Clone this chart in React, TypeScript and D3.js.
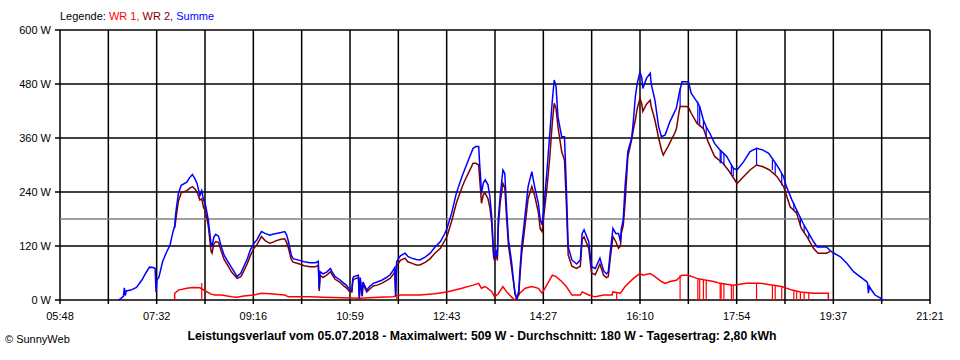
import React from "react";
import * as d3 from "d3";

const yTicks = [0, 120, 240, 360, 480, 600];
const xTickLabels = ["05:48", "07:32", "09:16", "10:59", "12:43", "14:27", "16:10", "17:54", "19:37", "21:21"];
const averageW = 180;
const legendPrefix = "Legende: ";
const legendItems = [
  { label: "WR 1, ", color: "#ff0000" },
  { label: "WR 2, ", color: "#800000" },
  { label: "Summe", color: "#0000ff" },
];
const titleText = "Leistungsverlauf vom 05.07.2018 - Maximalwert: 509 W - Durchschnitt: 180 W - Tagesertrag: 2,80 kWh";
const footerText = "© SunnyWeb";

const summe: [string, number][] = [
  ["06:51",0],["06:53",3],["06:56",8],["06:57",27],["06:58",10],["06:59",20],["07:04",22],["07:10",28],["07:16",45],["07:20",60],["07:24",73],["07:28",72],["07:30",70],["07:31",18],["07:32",45],["07:34",50],["07:38",85],["07:42",105],["07:46",122],["07:49",150],["07:51",165],["07:52",190],["07:53",207],["07:55",237],["07:58",255],["08:04",262],["08:07",272],["08:10",279],["08:13",268],["08:15",259],["08:18",232],["08:20",243],["08:22",222],["08:24",212],["08:27",178],["08:30",125],["08:31",118],["08:33",140],["08:35",146],["08:38",142],["08:41",118],["08:44",100],["08:47",89],["08:52",72],["08:58",52],["09:02",60],["09:05",74],["09:09",92],["09:12",111],["09:16",126],["09:19",133],["09:24",152],["09:28",148],["09:33",144],["09:36",146],["09:40",148],["09:45",150],["09:49",152],["09:51",145],["09:53",130],["09:56",100],["09:58",92],["10:05",88],["10:10",85],["10:16",83],["10:22",83],["10:25",86],["10:26",25],["10:27",63],["10:30",58],["10:34",62],["10:38",70],["10:40",62],["10:43",52],["10:48",45],["10:52",38],["10:55",33],["10:58",25],["11:01",22],["11:02",48],["11:03",52],["11:08",55],["11:09",5],["11:10",50],["11:12",10],["11:13",40],["11:17",22],["11:20",30],["11:24",37],["11:28",40],["11:33",44],["11:38",50],["11:42",56],["11:45",65],["11:47",72],["11:48",10],["11:49",85],["11:53",98],["11:58",104],["12:01",97],["12:05",93],["12:10",90],["12:14",89],["12:20",96],["12:25",104],["12:30",117],["12:36",130],["12:40",145],["12:43",159],["12:48",193],["12:53",237],["12:59",274],["13:02",290],["13:06",311],["13:11",337],["13:14",341],["13:17",341],["13:18",304],["13:19",275],["13:20",237],["13:22",260],["13:24",267],["13:27",256],["13:29",230],["13:31",185],["13:33",104],["13:34",96],["13:36",111],["13:37",96],["13:38",180],["13:40",230],["13:43",289],["13:45",281],["13:47",200],["13:49",133],["13:52",89],["13:54",50],["13:56",15],["13:58",4],["14:00",20],["14:01",59],["14:03",118],["14:07",193],["14:10",252],["14:14",285],["14:17",252],["14:21",215],["14:23",178],["14:25",167],["14:27",207],["14:30",281],["14:33",363],["14:36",444],["14:38",489],["14:40",474],["14:42",407],["14:46",363],["14:49",363],["14:51",252],["14:53",118],["14:57",89],["15:02",80],["15:06",89],["15:08",148],["15:10",156],["15:15",130],["15:18",74],["15:22",70],["15:27",93],["15:31",65],["15:34",58],["15:36",63],["15:38",104],["15:41",159],["15:44",148],["15:47",148],["15:49",130],["15:50",159],["15:52",178],["15:54",252],["15:57",330],["16:01",359],["16:03",400],["16:05",452],["16:07",481],["16:10",507],["16:12",493],["16:13",470],["16:17",493],["16:21",504],["16:22",481],["16:26",444],["16:30",385],["16:33",363],["16:37",367],["16:42",396],["16:49",426],["16:52",459],["16:55",485],["17:00",485],["17:02",485],["17:05",459],["17:11",441],["17:14",430],["17:18",400],["17:21",385],["17:25",370],["17:30",348],["17:36",333],["17:43",319],["17:50",293],["17:54",289],["18:01",307],["18:08",330],["18:15",337],["18:22",333],["18:28",326],["18:33",311],["18:38",296],["18:44",274],["18:47",252],["18:53",222],["18:58",200],["19:05",170],["19:11",148],["19:16",130],["19:20",118],["19:30",118],["19:34",110],["19:37",105],["19:45",96],["19:52",81],["19:59",63],["20:06",52],["20:13",41],["20:14",38],["20:15",15],["20:16",30],["20:17",26],["20:22",11],["20:28",4],["20:30",0],
];

const wr2: [string, number][] = [
  ["07:51",160],["07:53",190],["07:55",220],["07:58",238],["08:04",243],["08:07",248],["08:10",252],["08:13",246],["08:15",240],["08:18",222],["08:20",225],["08:22",205],["08:24",198],["08:27",165],["08:30",108],["08:31",104],["08:33",125],["08:35",130],["08:38",128],["08:41",108],["08:44",90],["08:47",80],["08:52",62],["08:58",48],["09:02",52],["09:05",64],["09:09",82],["09:12",98],["09:16",115],["09:19",122],["09:24",141],["09:28",132],["09:33",126],["09:36",128],["09:40",132],["09:45",135],["09:49",136],["09:51",128],["09:53",115],["09:56",90],["09:58",84],["10:05",80],["10:10",76],["10:16",74],["10:22",74],["10:25",77],["10:26",20],["10:27",55],["10:30",50],["10:34",55],["10:38",63],["10:40",56],["10:43",46],["10:48",40],["10:52",32],["10:55",27],["10:58",20],["11:01",18],["11:02",42],["11:03",46],["11:08",50],["11:09",3],["11:10",45],["11:12",8],["11:13",35],["11:17",18],["11:20",24],["11:24",31],["11:28",33],["11:33",37],["11:38",43],["11:42",48],["11:45",56],["11:47",62],["11:48",8],["11:49",75],["11:53",88],["11:58",93],["12:01",85],["12:05",82],["12:10",78],["12:14",78],["12:20",84],["12:25",92],["12:30",104],["12:36",115],["12:40",130],["12:43",141],["12:48",175],["12:53",215],["12:59",250],["13:02",265],["13:06",282],["13:11",304],["13:14",304],["13:17",300],["13:18",270],["13:19",245],["13:20",215],["13:22",235],["13:24",237],["13:27",225],["13:29",205],["13:31",170],["13:33",95],["13:34",89],["13:36",100],["13:37",88],["13:38",160],["13:40",215],["13:43",259],["13:45",250],["13:47",180],["13:49",120],["13:52",76],["13:54",45],["13:56",12],["13:58",3],["14:00",12],["14:01",45],["14:03",100],["14:07",170],["14:10",225],["14:14",252],["14:17",232],["14:21",195],["14:23",158],["14:25",152],["14:27",190],["14:30",245],["14:33",311],["14:36",395],["14:38",437],["14:40",425],["14:42",385],["14:46",330],["14:49",311],["14:51",215],["14:53",100],["14:57",75],["15:02",70],["15:06",75],["15:08",135],["15:10",140],["15:15",115],["15:18",60],["15:22",56],["15:27",80],["15:31",55],["15:34",50],["15:36",52],["15:38",90],["15:41",141],["15:44",130],["15:47",115],["15:49",120],["15:50",148],["15:52",165],["15:54",215],["15:57",319],["16:01",356],["16:03",380],["16:05",400],["16:07",425],["16:10",448],["16:12",435],["16:13",419],["16:17",435],["16:21",444],["16:22",430],["16:26",400],["16:30",360],["16:33",334],["16:35",322],["16:37",330],["16:40",341],["16:47",370],["16:49",380],["16:52",420],["16:53",430],["17:00",430],["17:02",428],["17:05",415],["17:11",393],["17:18",381],["17:23",352],["17:30",319],["17:39",304],["17:46",285],["17:54",259],["18:01",274],["18:08",289],["18:15",300],["18:22",296],["18:29",289],["18:37",274],["18:44",252],["18:51",207],["18:58",193],["19:03",159],["19:09",141],["19:16",115],["19:21",104],["19:30",104],["19:34",108],
];

const wr1: [string, number][] = [
  ["07:51",0],["07:51",15],["07:55",22],["08:04",26],["08:10",28],["08:18",27],["08:24",20],["08:30",13],["08:34",11],["08:41",11],["08:52",7],["08:58",6],["09:05",9],["09:16",11],["09:24",15],["09:33",14],["09:49",11],["09:53",7],["10:16",7],["10:30",6],["10:50",5],["11:10",4],["11:30",6],["11:45",7],["11:53",11],["12:14",11],["12:30",14],["12:43",18],["12:59",26],["13:11",33],["13:17",37],["13:18",33],["13:20",26],["13:24",30],["13:31",19],["13:34",7],["13:38",14],["13:43",30],["13:47",18],["13:52",7],["13:56",0],["14:01",15],["14:07",26],["14:14",30],["14:21",26],["14:25",15],["14:30",33],["14:36",55],["14:40",52],["14:46",41],["14:51",30],["14:57",11],["15:06",11],["15:08",18],["15:15",11],["15:22",7],["15:31",11],["15:40",11],["15:41",18],["15:49",15],["15:54",30],["16:03",48],["16:10",59],["16:13",55],["16:21",59],["16:26",52],["16:33",41],["16:37",37],["16:42",41],["16:49",44],["16:55",55],["17:02",55],["17:11",48],["17:21",44],["17:29",41],["17:36",37],["17:50",33],["18:04",37],["18:19",37],["18:33",33],["18:42",30],["18:53",22],["19:02",18],["19:16",15],["19:32",15],["19:32",0],
];

// WR 1 momentary dropouts: [time, level before drop]
const wr1Dropouts: [string, number][] = [
  ["08:20",38],["11:49",7],["15:45",15],["16:53",55],["17:12",48],["17:14",48],["17:18",46],["17:21",44],["17:36",37],["17:37",37],["17:40",36],["17:48",33],["17:50",33],["18:15",37],["18:32",33],["18:35",33],["18:42",30],["18:55",22],["18:58",20],["19:02",18],["19:06",18],["19:11",16],
];

// Summe dips caused by the dropouts: [time, top, bottom]
const summeDips: [string, number, number][] = [
  ["16:53",470,430],["17:12",441,393],["17:14",430,390],["17:18",400,381],["17:21",385,360],["17:36",333,304],["17:37",333,304],["17:40",325,300],["17:48",300,280],["17:50",293,275],["18:15",337,300],["18:32",311,289],["18:35",305,280],["18:42",280,255],["18:55",215,200],["18:58",200,193],["19:02",185,165],["19:06",165,150],["19:11",148,135],
];

const parse = d3.timeParse("%H:%M");
const P = (s: string) => parse(s) as Date;

export default function App() {
  const left = 60, right = 930, top = 30, bottom = 300;
  const x = d3.scaleTime().domain([P(xTickLabels[0]), P(xTickLabels[xTickLabels.length - 1])]).range([left, right]);
  const y = d3.scaleLinear().domain([0, 600]).range([bottom, top]);
  const [d0, d1] = x.domain();
  const grid = d3.range(19).map((i) => new Date(+d0 + (i * (+d1 - +d0)) / 18));
  const line = d3.line<[string, number]>().x((d) => x(P(d[0]))).y((d) => y(d[1]));
  const font = "'Liberation Sans', Arial, sans-serif";

  return (
    <svg width={960} height={360} style={{ position: "absolute", left: 0, top: 0, background: "#fff" }} fontFamily={font}>
      <rect x={0} y={0} width={960} height={360} fill="#fff" />
      {/* legend */}
      <text x={60} y={20} fontSize={11}>
        <tspan fill="#000">{legendPrefix}</tspan>
        {legendItems.map((l) => (
          <tspan key={l.label} fill={l.color}>{l.label}</tspan>
        ))}
      </text>
      {/* horizontal grid */}
      {yTicks.map((t) => (
        <g key={t}>
          <line x1={55} x2={right} y1={y(t)} y2={y(t)} stroke="#000" strokeWidth={1.5} />
          <text x={51} y={y(t) + 4} fontSize={11} textAnchor="end">{t} W</text>
        </g>
      ))}
      {/* vertical grid */}
      {grid.map((g, i) => (
        <line key={i} x1={x(g)} x2={x(g)} y1={top} y2={bottom + 4} stroke="#000" strokeWidth={1.5} />
      ))}
      {xTickLabels.map((l, i) => (
        <text key={l} x={x(grid[i * 2])} y={320} fontSize={11} textAnchor="middle">{l}</text>
      ))}
      {/* average */}
      <line x1={left} x2={right} y1={y(averageW)} y2={y(averageW)} stroke="#808080" strokeWidth={1.5} />
      {/* series */}
      <path d={line(wr1) || ""} fill="none" stroke="#ff0000" strokeWidth={1.5} />
      {wr1Dropouts.map((d, i) => (
        <line key={"dr" + i} x1={x(P(d[0]))} x2={x(P(d[0]))} y1={y(d[1])} y2={y(0)} stroke="#ff0000" strokeWidth={1.2} />
      ))}
      <path d={line(wr2) || ""} fill="none" stroke="#800000" strokeWidth={1.5} />
      <path d={line(summe) || ""} fill="none" stroke="#0000ff" strokeWidth={1.5} />
      {summeDips.map((d, i) => (
        <line key={"sd" + i} x1={x(P(d[0]))} x2={x(P(d[0]))} y1={y(d[1])} y2={y(d[2])} stroke="#0000ff" strokeWidth={1.2} />
      ))}
      {/* title */}
      <text x={482} y={340} fontSize={12} fontWeight="bold" textAnchor="middle" textLength={589} lengthAdjust="spacingAndGlyphs">{titleText}</text>
      <text x={5} y={343} fontSize={11}>{footerText}</text>
    </svg>
  );
}
